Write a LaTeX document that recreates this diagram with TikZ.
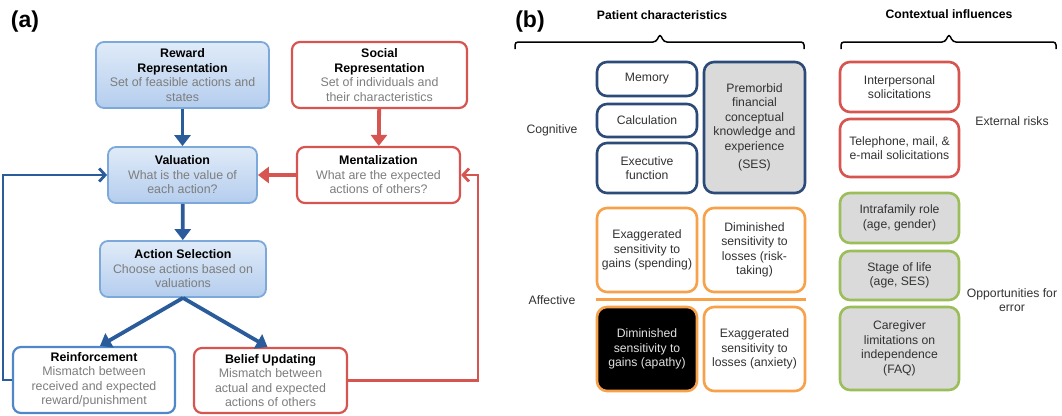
\documentclass[tikz,border=0pt]{standalone}
\usepackage{fontspec}
\setmainfont{Liberation Sans}
\usetikzlibrary{arrows.meta,calc}
\definecolor{darr}{RGB}{42,92,155}
\definecolor{lblue}{RGB}{125,168,218}
\definecolor{bluetop}{RGB}{224,235,248}
\definecolor{bluebot}{RGB}{180,205,238}
\definecolor{rbord}{RGB}{215,85,80}
\definecolor{navy}{RGB}{45,75,120}
\definecolor{orng}{RGB}{247,162,75}
\definecolor{grn}{RGB}{155,190,90}
\definecolor{gfill}{RGB}{218,218,218}
\definecolor{desc}{RGB}{125,125,125}
\definecolor{btxt}{RGB}{50,50,50}
\definecolor{rblue}{RGB}{80,135,200}
\newcommand{\atl}[1]{\textbf{#1}}
\newcommand{\ads}[1]{\textcolor{desc}{#1}}
\tikzset{
  abox/.style={rounded corners=8pt, line width=1.8pt, align=center, inner sep=1pt,
    font=\fontsize{12.4}{14.5}\selectfont},
  bluebox/.style={abox, draw=lblue, top color=bluetop, bottom color=bluebot},
  redbox/.style={abox, draw=rbord, fill=white, line width=2.2pt},
  reibox/.style={abox, draw=rblue, fill=white, line width=2.2pt},
  bbox/.style={rounded corners=10pt, line width=2.6pt, align=center, inner sep=1pt,
    font=\fontsize{12.2}{14.5}\selectfont, text=btxt},
  cogbox/.style={bbox, draw=navy, fill=white},
  affbox/.style={bbox, draw=orng, fill=white},
  extbox/.style={bbox, draw=rbord, fill=white},
  oppbox/.style={bbox, draw=grn, fill=gfill},
  lbl/.style={font=\fontsize{12.2}{14.5}\selectfont, text=btxt, align=center},
  hdr/.style={font=\fontsize{12.2}{14}\selectfont\bfseries, text=black},
  panel/.style={font=\fontsize{23}{26}\selectfont\bfseries},
  mainarrow/.style={line width=3.8pt, -{Triangle[length=11pt,width=16pt]}},
  looparrow/.style={line width=2.8pt, -{Straight Barb[length=6pt,width=13pt]}},
  bracepath/.style={line width=1.5pt, rounded corners=3pt, black}
}
\begin{document}
\begin{tikzpicture}[x=1pt,y=-1pt]
\useasboundingbox (0,0) rectangle (1062,415);
% ---------- panel (a)
\node[panel] (pa) at (25,22) {(a)};
\node[bluebox, minimum width=173pt, minimum height=66pt] (rew) at (182.5,75)
  {\atl{Reward}\\\atl{Representation}\\\ads{Set of feasible actions and}\\\ads{states}};
\node[redbox, minimum width=175pt, minimum height=66pt] (soc) at (379.5,75)
  {\atl{Social}\\\atl{Representation}\\\ads{Set of individuals and}\\\ads{their characteristics}};
\node[bluebox, minimum width=149pt, minimum height=56pt] (val) at (182.5,175)
  {\atl{Valuation}\\\ads{What is the value of}\\\ads{each action?}};
\node[redbox, minimum width=163pt, minimum height=56pt] (men) at (378.5,175)
  {\atl{Mentalization}\\\ads{What are the expected}\\\ads{actions of others?}};
\node[bluebox, minimum width=166pt, minimum height=56pt] (act) at (183,269)
  {\atl{Action Selection}\\\ads{Choose actions based on}\\\ads{valuations}};
\node[reibox, minimum width=162pt, minimum height=66pt] (rei) at (94,380)
  {\atl{Reinforcement}\\\ads{Mismatch between}\\\ads{received and expected}\\\ads{reward/punishment}};
\node[redbox, minimum width=153pt, minimum height=65pt] (bel) at (270.5,380.5)
  {\atl{Belief Updating}\\\ads{Mismatch between}\\\ads{actual and expected}\\\ads{actions of others}};
\coordinate (ll) at (3,0);
\coordinate (rl) at (478,0);
\draw[mainarrow, darr] (rew) -- (val);
\draw[mainarrow, darr] (val) -- (act);
\draw[mainarrow, rbord] (soc) -- (men);
\draw[mainarrow, rbord] (men) -- (val);
\draw[mainarrow, darr] (act.south) -- ([xshift=6pt]rei.north);
\draw[mainarrow, darr] (act.south) -- ([xshift=-3pt]bel.north);
\draw[looparrow, darr] (rei.west) -| (ll |- val.west) -- (val.west);
\draw[looparrow, rbord] (bel.east) -| (rl |- men.east) -- (men.east);
% ---------- panel (b)
\node[panel] (pb) at (530,22) {(b)};
\node[hdr] (pch) at (662,15) {Patient characteristics};
\node[hdr] (cih) at (949,14) {Contextual influences};
\draw[bracepath] (515,49) -- (515,42) -- (656,42) -- (660,34) -- (664,42) -- (804,42) -- (804,49);
\draw[bracepath] (841,49) -- (841,42) -- (945,42) -- (949,34) -- (953,42) -- (1056,42) -- (1056,49);
\node[cogbox, minimum width=100pt, minimum height=34pt] (mem) at (647,79) {Memory};
\node[cogbox, minimum width=100pt, minimum height=33pt] (cal) at (647,120.5) {Calculation};
\node[cogbox, minimum width=100pt, minimum height=50pt] (exe) at (647,168) {Executive\\function};
\node[cogbox, fill=gfill, minimum width=101pt, minimum height=131pt] (pre) at (754.5,127.5)
  {Premorbid\\financial\\conceptual\\knowledge and\\experience\\[4pt](SES)};
\node[affbox, minimum width=100pt, minimum height=84pt] (eg) at (647,250)
  {Exaggerated\\sensitivity to\\gains (spending)};
\node[affbox, minimum width=101pt, minimum height=84pt] (dl) at (754.5,250)
  {Diminished\\sensitivity to\\losses (risk-\\taking)};
\node[affbox, fill=black, text=white!88!black, minimum width=100pt, minimum height=84pt] (dg) at (647,349)
  {Diminished\\sensitivity to\\gains (apathy)};
\node[affbox, minimum width=101pt, minimum height=84pt] (el) at (754.5,349)
  {Exaggerated\\sensitivity to\\losses (anxiety)};
\draw[orng, line width=3pt] ($(eg.south west)!.5!(dg.north west)$) -- ($(dl.south east)!.5!(el.north east)$);
\node[lbl] (cog) at (552,130) {Cognitive};
\node[lbl] (aff) at (552,300) {Affective};
\node[extbox, minimum width=119pt, minimum height=50pt] (ip) at (899.5,87) {Interpersonal\\solicitations};
\node[extbox, minimum width=119pt, minimum height=58pt] (tel) at (899.5,148) {Telephone, mail, \&\\e-mail solicitations};
\node[oppbox, minimum width=119pt, minimum height=50pt] (intra) at (899.5,218) {Intrafamily role\\(age, gender)};
\node[oppbox, minimum width=119pt, minimum height=49pt] (stage) at (899.5,275.5) {Stage of life\\(age, SES)};
\node[oppbox, minimum width=119pt, minimum height=83pt] (care) at (899.5,348.5) {Caregiver\\limitations on\\independence\\(FAQ)};
\node[lbl] (ext) at (1012,121) {External risks};
\node[lbl] (opp) at (1012,300) {Opportunities for\\error};
\end{tikzpicture}
\end{document}
